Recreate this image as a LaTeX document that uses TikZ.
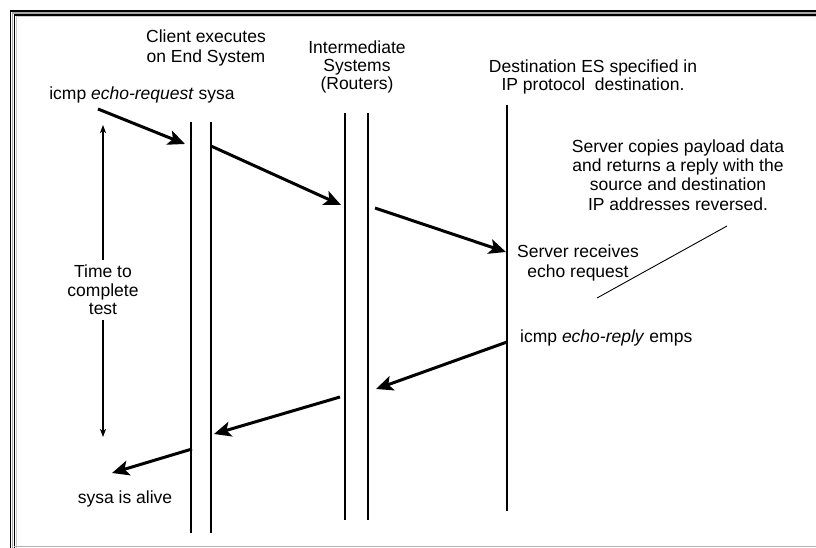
\documentclass[tikz,border=0pt]{standalone}
\usepackage{fontspec}
\setmainfont{Liberation Sans}
\usetikzlibrary{arrows.meta}
\begin{document}
\begin{tikzpicture}[x=1pt,y=-1pt,
  lifeline/.style={line width=1.4pt},
  msg/.style={line width=3pt,-{Stealth[length=17pt,width=15pt,inset=4pt]}},
  span/.style={line width=1.3pt,-{Stealth[length=8pt,width=6pt,inset=2pt]}},
  lbl/.style={inner sep=0pt,align=center,font=\fontsize{17.5}{19}\selectfont},
]
\useasboundingbox (0,0) rectangle (816,548);
\fill[white] (0,0) rectangle (816,548);

% window frame
\draw[line width=1.6pt] (10.5,548) -- (10.5,11) -- (816,11);
\draw[line width=1.2pt,gray!70] (12.6,548) -- (12.6,13.1) -- (816,13.1);
\draw[line width=1.4pt] (14.4,548) -- (14.4,14.9) -- (816,14.9);
\draw[line width=0.9pt,gray!40] (16,548) -- (16,16.5) -- (816,16.5);
\draw[line width=1.2pt,gray!60] (14.4,546.5) -- (816,546.5);

% lifelines
\coordinate (c1t) at (191,122); \coordinate (c1b) at (191,533);
\coordinate (c2t) at (211,122); \coordinate (c2b) at (211,533);
\coordinate (r1t) at (345,113); \coordinate (r1b) at (345,520);
\coordinate (r2t) at (368,113); \coordinate (r2b) at (368,520);
\coordinate (dt)  at (507,105); \coordinate (db)  at (507,511);
\draw[lifeline] (c1t) -- (c1b);
\draw[lifeline] (c2t) -- (c2b);
\draw[lifeline] (r1t) -- (r1b);
\draw[lifeline] (r2t) -- (r2b);
\draw[lifeline] (dt) -- (db);

% headings
\node[lbl,font=\fontsize{17.5}{20}\selectfont] (client) at (206,48) {Client executes\\on End System};
\node[lbl,font=\fontsize{17.5}{18}\selectfont] (routers) at (357,67) {Intermediate\\Systems\\(Routers)};
\node[lbl,font=\fontsize{17.5}{18}\selectfont] (dest) at (593,77) {Destination ES specified in\\IP protocol\ \ destination.};

% message labels
\node[lbl] (req) at (142,95) {icmp \textit{echo-request} sysa};
\node[lbl,font=\fontsize{17.5}{19.3}\selectfont] (copies) at (678,175) {Server copies payload data\\and returns a reply with the\\source and destination\\IP addresses reversed.};
\node[lbl,font=\fontsize{17.5}{20}\selectfont] (recv) at (578,263) {Server receives\\echo request};
\node[lbl,anchor=west] (rep) at (520,338) {icmp \textit{echo-reply} emps};
\node[lbl,font=\fontsize{17.5}{18.5}\selectfont] (time) at (103,290) {Time to\\complete\\test};
\node[lbl] (alive) at (125,499) {sysa is alive};

% request path
\coordinate (a1s) at (98,109);  \coordinate (a1e) at (185,144);
\coordinate (a2s) at (211,146); \coordinate (a2e) at (341,205);
\coordinate (a3s) at (375,208); \coordinate (a3e) at (506,252);
\draw[msg] (a1s) -- (a1e);
\draw[msg] (a2s) -- (a2e);
\draw[msg] (a3s) -- (a3e);

% reply path
\coordinate (a4s) at (507,342); \coordinate (a4e) at (376,389);
\coordinate (a5s) at (340,397); \coordinate (a5e) at (214,434);
\coordinate (a6s) at (192,449); \coordinate (a6e) at (112,473);
\draw[msg] (a4s) -- (a4e);
\draw[msg] (a5s) -- (a5e);
\draw[msg] (a6s) -- (a6e);

% elapsed time span
\coordinate (tup) at (103,125);
\coordinate (tdown) at (103,437);
\draw[span] (103,260) -- (tup);
\draw[span] (103,320) -- (tdown);

% pointer from the note to the server
\coordinate (pa) at (727,226);
\coordinate (pb) at (597,298);
\draw[line width=0.9pt] (pa) -- (pb);
\end{tikzpicture}
\end{document}
